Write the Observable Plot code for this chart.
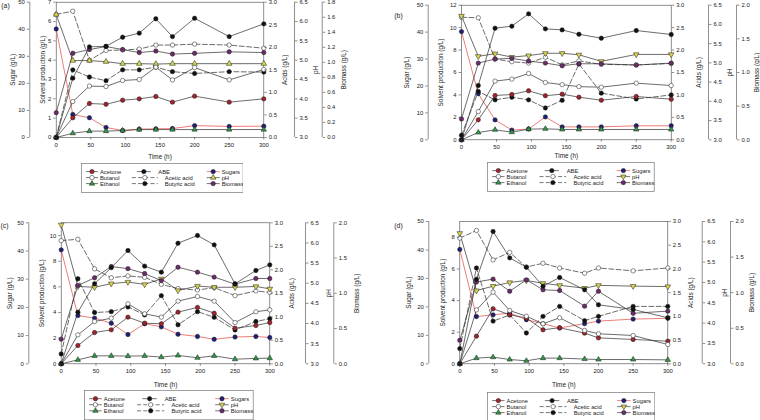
<!DOCTYPE html>
<html><head><meta charset="utf-8">
<script src="https://cdn.jsdelivr.net/npm/d3@7"></script>
<script src="https://cdn.jsdelivr.net/npm/@observablehq/plot@0.6"></script>
<style>
html,body{margin:0;padding:0;background:#fff;}
#page{position:relative;width:760px;height:420px;overflow:hidden;font-family:"Liberation Sans",Arial,Helvetica,sans-serif;}
#page svg{position:absolute;left:0;top:0;}
</style></head><body><div id="page"></div>
<script>
// ---------- tick labels ----------
const timeTicks = [0, 50, 100, 150, 200, 250, 300];
const sugarTicks = [0, 10, 20, 30, 40, 50];
const acidTicks = [0, 0.5, 1.0, 1.5, 2.0, 2.5, 3.0];
const phTicks = [3.0, 3.5, 4.0, 4.5, 5.0, 5.5, 6.0, 6.5];
const biomassTicksA = [0, 0.2, 0.4, 0.6, 0.8, 1.0, 1.2, 1.4, 1.6, 1.8];
const biomassTicks = [0, 0.5, 1.0, 1.5, 2.0];
const solventTicksA = [0, 1, 2, 3, 4, 5, 6, 7];
const solventTicksB = [0, 2, 4, 6, 8, 10, 12];
const solventTicksC = [0, 2, 4, 6, 8, 10];
const solventTicksD = [0, 2, 4, 6, 8];
const legendNames = ["Acetone", "Butanol", "Ethanol", "ABE", "Acetic acid", "Butyric acid", "Sugars", "pH", "Biomass"];

// ---------- panel (a) ----------
const timesA = [0, 24, 48, 72, 96, 120, 144, 168, 200, 250, 300];
const acetoneA = [0, 1.02, 1.76, 1.72, 1.93, 2.00, 2.12, 1.83, 2.14, 1.83, 2.00];
const butanolA = [0, 1.86, 2.66, 2.64, 2.95, 3.00, 3.64, 2.98, 3.62, 2.98, 3.52];
const ethanolA = [0, 0.22, 0.33, 0.33, 0.36, 0.41, 0.41, 0.41, 0.41, 0.41, 0.41];
const abeA = [0, 3.07, 4.69, 4.72, 5.19, 5.40, 6.14, 5.22, 6.17, 5.22, 5.88];
const sugarsA = [40.1, 8.5, 7.3, 3.7, 2.6, 3.1, 3.2, 3.3, 4.4, 4.1, 4.2];
const aceticA = [2.73, 2.80, 1.71, 1.93, 1.94, 1.96, 2.05, 2.05, 2.07, 2.05, 1.98];
const butyricA = [0, 1.50, 1.34, 1.26, 1.50, 1.50, 1.56, 1.46, 1.42, 1.46, 1.45];
const phA = [6.18, 4.99, 4.99, 4.96, 4.91, 4.91, 4.90, 4.91, 4.91, 4.91, 4.91];
const biomassA = [0.33, 1.12, 1.17, 1.21, 1.17, 1.13, 1.15, 1.11, 1.12, 1.14, 1.13];

// ---------- panel (b) ----------
const timesB = [0, 24, 48, 72, 96, 120, 144, 168, 200, 250, 300];
const acetoneB = [0, 1.78, 3.95, 4.04, 4.37, 3.93, 4.07, 3.80, 3.53, 3.86, 3.62];
const butanolB = [0, 2.52, 5.23, 5.41, 5.91, 5.11, 4.92, 4.74, 4.69, 5.05, 4.84];
const ethanolB = [0, 0.65, 0.89, 0.68, 0.95, 0.98, 0.92, 0.92, 0.92, 0.92, 0.92];
const abeB = [0, 4.84, 9.95, 10.13, 11.23, 9.89, 9.80, 9.41, 9.06, 9.74, 9.39];
const sugarsB = [40.2, 17.1, 7.4, 3.6, 4.0, 8.5, 4.8, 4.8, 4.8, 5.2, 5.2];
const aceticB = [2.73, 2.72, 1.80, 1.74, 1.71, 1.84, 1.67, 1.76, 1.68, 1.67, 1.70];
const butyricB = [0.10, 1.08, 0.89, 0.95, 0.89, 0.71, 0.88, 1.69, 1.04, 0.91, 1.00];
const phB = [6.22, 5.17, 5.24, 5.15, 5.19, 5.25, 5.25, 5.21, 5.04, 5.22, 5.22];
const biomassB = [0.31, 1.14, 1.20, 1.21, 1.17, 1.14, 1.10, 1.13, 1.13, 1.11, 1.14];

// ---------- panel (c) ----------
const timesC = [0, 24, 48, 72, 96, 120, 144, 168, 196, 220, 250, 280, 300];
const acetoneC = [0, 1.43, 2.44, 2.65, 3.64, 3.17, 3.12, 4.03, 4.40, 3.95, 2.78, 2.99, 3.22];
const butanolC = [0, 2.26, 3.30, 3.56, 4.68, 3.90, 3.64, 4.89, 5.25, 4.89, 3.22, 4.06, 4.21];
const ethanolC = [0, 0.31, 0.62, 0.62, 0.60, 0.62, 0.52, 0.65, 0.47, 0.62, 0.36, 0.42, 0.44];
const abeC = [0, 4.03, 6.24, 7.5, 8.84, 7.62, 7.15, 9.41, 10.01, 9.28, 6.24, 7.28, 7.72];
const sugarsC = [40.4, 17.1, 16.2, 14.4, 10.4, 14.2, 13.1, 10.5, 9.7, 8.7, 9.5, 9.7, 9.3];
const aceticC = [2.62, 2.65, 2.02, 1.83, 1.87, 1.84, 1.69, 1.60, 1.57, 1.62, 1.45, 1.55, 1.52];
const butyricC = [0.21, 1.81, 1.09, 1.11, 1.21, 1.04, 1.45, 0.83, 1.11, 0.99, 0.72, 0.90, 0.96];
const phC = [6.45, 4.92, 4.90, 4.99, 5.03, 4.97, 5.11, 4.82, 4.93, 4.90, 4.90, 4.92, 4.86];
const biomassC = [0.35, 1.11, 1.22, 1.38, 1.35, 1.28, 1.18, 1.37, 1.30, 1.23, 1.13, 1.21, 1.21];

// ---------- panel (d) ----------
const timesD = [0, 24, 48, 72, 96, 120, 144, 180, 200, 250, 300];
const acetoneD = [0, 1.75, 3.48, 3.10, 2.90, 2.15, 2.28, 1.94, 1.64, 1.54, 1.43];
const butanolD = [0, 3.41, 4.53, 3.37, 3.01, 2.53, 2.91, 2.11, 1.90, 1.79, 1.22];
const ethanolD = [0, 0.36, 0.42, 0.27, 0.19, 0.36, 0.36, 0.30, 0.27, 0.27, 0.25];
const abeD = [0, 5.35, 8.37, 6.70, 6.11, 4.91, 5.46, 4.68, 3.73, 3.44, 2.91];
const sugarsD = [40.2, 16.6, 17.2, 17.8, 15.5, 14.1, 12.6, 14.1, 15.0, 15.7, 16.0];
const aceticD = [2.65, 2.81, 2.19, 2.35, 2.04, 2.12, 2.02, 1.91, 2.02, 1.96, 2.02];
const butyricD = [0.32, 2.02, 0.90, 1.03, 0.65, 1.00, 1.21, 0.91, 1.00, 1.21, 1.21];
const phD = [6.21, 4.80, 4.91, 5.00, 5.05, 4.98, 4.93, 4.86, 4.93, 4.91, 4.90];
const biomassD = [0.33, 1.15, 1.19, 1.02, 1.18, 1.04, 1.03, 0.81, 1.02, 0.71, 0.74];

// ---------- styles ----------
const C = {
  line: "#2c2c2c", axis: "#444444", text: "#1a1a1a",
  acetone: "#a3222d", butanol: "#ffffff", ethanol: "#2f9a46", abe: "#111111",
  acetic: "#ffffff", butyric: "#111111", sugars: "#1d207a", sugarLine: "#e4453d",
  ph: "#d8d64a", biomass: "#6d2a6c"
};
const DASH = "5,2.4";
const sqrt3 = Math.sqrt(3);
const triDown = {draw(ctx, size) {
  const y = Math.sqrt(size / (sqrt3 * 3));
  ctx.moveTo(0, 2 * y); ctx.lineTo(-sqrt3 * y, -y); ctx.lineTo(sqrt3 * y, -y); ctx.closePath();
}};
const fmt1 = d3.format(".1f");
const page = document.getElementById("page");

function panel(cfg) {
  const {t, smax, bmax} = cfg;
  const sug = v => v * smax / 50, acid = v => v * smax / 3,
        ph = v => (v - 3) * smax / 3.5, bio = v => v * smax / bmax, sol = v => v;
  const phSymbol = cfg.phUp ? "triangle" : triDown;
  const series = [
    {vals: cfg.sugars, f: sug, stroke: C.sugarLine, fill: C.sugars, symbol: "circle"},
    {vals: cfg.acetic, f: acid, stroke: C.line, fill: C.acetic, symbol: "circle", dash: DASH},
    {vals: cfg.butyric, f: acid, stroke: C.line, fill: C.butyric, symbol: "circle", dash: DASH},
    {vals: cfg.ph, f: ph, stroke: C.line, fill: C.ph, symbol: phSymbol, r: 2.1},
    {vals: cfg.biomass, f: bio, stroke: C.line, fill: C.biomass, symbol: "circle"},
    {vals: cfg.ethanol, f: sol, stroke: C.line, fill: C.ethanol, symbol: "triangle", r: 2.0},
    {vals: cfg.acetone, f: sol, stroke: C.line, fill: C.acetone, symbol: "circle"},
    {vals: cfg.butanol, f: sol, stroke: C.line, fill: C.butanol, symbol: "circle"},
    {vals: cfg.abe, f: sol, stroke: C.line, fill: C.abe, symbol: "circle"}
  ];
  const marks = [Plot.frame({stroke: C.axis, strokeWidth: 0.6})];
  for (const s of series) {
    const data = t.map((h, i) => ({t: h, v: s.f(s.vals[i])}));
    marks.push(Plot.line(data, {x: "t", y: "v", stroke: s.stroke, strokeWidth: 0.7, strokeDasharray: s.dash}));
  }
  for (const s of series) {
    const data = t.map((h, i) => ({t: h, v: s.f(s.vals[i])}));
    marks.push(Plot.dot(data, {x: "t", y: "v", r: s.r || 2.2, symbol: s.symbol, fill: s.fill, stroke: "#1a1a1a", strokeWidth: 0.5}));
  }
  const ax = {tickSize: 2.5, tickPadding: 2.5, fontSize: 5.9, label: null, stroke: C.axis, fill: C.text, strokeWidth: 0.6};
  marks.push(
    Plot.axisX(timeTicks, {...ax, tickPadding: 2.4}),
    Plot.axisY(cfg.solventTicks, {...ax, anchor: "left", tickFormat: d => String(d)}),
    Plot.axisY(sugarTicks.map(sug), {...ax, anchor: "left", dx: cfg.sugarDx, tickFormat: d => String(Math.round(d * 50 / smax))}),
    Plot.axisY(acidTicks.map(acid), {...ax, anchor: "right", tickFormat: d => fmt1(d * 3 / smax)}),
    Plot.axisY(phTicks.map(ph), {...ax, anchor: "right", dx: cfg.phDx, tickFormat: d => fmt1(3 + d * 3.5 / smax)}),
    Plot.axisY(cfg.biomassTicks.map(bio), {...ax, anchor: "right", dx: cfg.bioDx, tickFormat: d => fmt1(d * bmax / smax)}),
    Plot.ruleX([0], {y1: 0, y2: smax, dx: cfg.sugarDx, stroke: C.axis, strokeWidth: 0.6}),
    Plot.ruleX([300], {y1: 0, y2: smax, dx: cfg.phDx, stroke: C.axis, strokeWidth: 0.6}),
    Plot.ruleX([300], {y1: 0, y2: smax, dx: cfg.bioDx, stroke: C.axis, strokeWidth: 0.6})
  );
  const tt = {fontSize: 6.4, fill: C.text, textAnchor: "middle", lineAnchor: "middle"};
  marks.push(
    Plot.text(["Sugar (g/L)"], {...tt, frameAnchor: "left", dx: cfg.ti[0], rotate: -90}),
    Plot.text(["Solvent production (g/L)"], {...tt, frameAnchor: "left", dx: cfg.ti[1], rotate: -90}),
    Plot.text(["Acids (g/L)"], {...tt, frameAnchor: "right", dx: cfg.ti[2], rotate: -90}),
    Plot.text(["pH"], {...tt, frameAnchor: "right", dx: cfg.ti[3], rotate: -90}),
    Plot.text(["Biomass (g/L)"], {...tt, frameAnchor: "right", dx: cfg.ti[4], rotate: -90}),
    Plot.text(["Time (h)"], {...tt, frameAnchor: "bottom", dy: cfg.timeDy}),
    Plot.text([cfg.letter], {...tt, fontSize: 6.8, frameAnchor: "top-left", dx: cfg.letterPos[0], dy: cfg.letterPos[1]})
  );
  const svg = Plot.plot({
    width: 760, height: 420,
    marginLeft: cfg.L, marginRight: 760 - cfg.R, marginTop: cfg.T, marginBottom: 420 - cfg.B,
    x: {domain: [0, 300]}, y: {domain: [0, smax]},
    style: {background: "transparent", fontFamily: '"Liberation Sans", Arial, Helvetica, sans-serif', overflow: "visible"},
    marks
  });
  page.appendChild(svg);
  legend(cfg.leg, cfg.phUp);
}

function legend([left, top, w, h], phUp) {
  const k = w / 162;
  const svg = d3.select(page).append("svg")
    .style("left", left + "px").style("top", top + "px")
    .attr("width", w + 1).attr("height", h + 1);
  svg.append("rect").attr("x", 0.5).attr("y", 0.5).attr("width", w).attr("height", h)
    .attr("fill", "white").attr("stroke", "#777").attr("stroke-width", 0.7);
  const rowY = [8.6, 14.6, 20.6].map(y => y * h / 29);
  const circle = d3.symbol(d3.symbolCircle, Math.PI * 2.2 * 2.2)();
  const tri = d3.symbol(d3.symbolTriangle, Math.PI * 2.0 * 2.0)();
  const triD = d3.symbol(triDown, Math.PI * 2.0 * 2.0)();
  const items = [
    {c: 0, r: 0, fill: C.acetone, sym: circle},
    {c: 0, r: 1, fill: C.butanol, sym: circle},
    {c: 0, r: 2, fill: C.ethanol, sym: tri},
    {c: 1, r: 0, fill: C.abe, sym: circle},
    {c: 1, r: 1, fill: C.acetic, sym: circle, dash: true},
    {c: 1, r: 2, fill: C.butyric, sym: circle, dash: true},
    {c: 2, r: 0, fill: C.sugars, sym: circle, stroke: C.sugarLine},
    {c: 2, r: 1, fill: C.ph, sym: phUp ? tri : triD},
    {c: 2, r: 2, fill: C.biomass, sym: circle}
  ];
  const col = [
    {x1: 5, x2: 17, m: 11, tx: 19},
    {x1: 56, x2: 70, m: 63, tx: 77.5},
    {x1: 126, x2: 139, m: 132.5, tx: 141}
  ];
  items.forEach((it, i) => {
    const c = col[it.c], y = rowY[it.r];
    const x1 = (it.dash ? 51 : c.x1) * k, x2 = (it.dash ? 77 : c.x2) * k, m = (it.dash ? 64 : c.m) * k;
    const tx = (it.dash ? 84 : c.tx) * k;
    svg.append("line").attr("x1", x1).attr("x2", x2).attr("y1", y).attr("y2", y)
      .attr("stroke", it.stroke || C.line).attr("stroke-width", 0.65)
      .attr("stroke-dasharray", it.dash ? "4,2.2" : null);
    svg.append("path").attr("d", it.sym).attr("transform", `translate(${m},${y})`)
      .attr("fill", it.fill).attr("stroke", "#1a1a1a").attr("stroke-width", 0.5);
    svg.append("text").attr("x", tx).attr("y", y).attr("dy", "0.35em")
      .attr("font-size", 5.8).attr("fill", C.text)
      .attr("font-family", '"Liberation Sans", Arial, sans-serif')
      .text(legendNames[i]);
  });
}

panel({letter: "(a)", t: timesA, acetone: acetoneA, butanol: butanolA, ethanol: ethanolA, abe: abeA,
  sugars: sugarsA, acetic: aceticA, butyric: butyricA, ph: phA, biomass: biomassA,
  smax: 7, bmax: 1.8, solventTicks: solventTicksA, biomassTicks: biomassTicksA, phUp: true,
  L: 55.7, R: 263.3, T: 1.7, B: 137.0, sugarDx: -26.4, phDx: 30.7, bioDx: 58.4,
  ti: [-43, -13, 20.7, 51.7, 79.7], timeDy: 19.7, letterPos: [-50.7, 3.3],
  leg: [80.7, 163.3, 161.6, 29]});

panel({letter: "(b)", t: timesB, acetone: acetoneB, butanol: butanolB, ethanol: ethanolB, abe: abeB,
  sugars: sugarsB, acetic: aceticB, butyric: butyricB, ph: phB, biomass: biomassB,
  smax: 12, bmax: 2.0, solventTicks: solventTicksB, biomassTicks: biomassTicks, phUp: false,
  L: 461, R: 670.7, T: 4.7, B: 139.3, sugarDx: -33.3, phDx: 37.3, bioDx: 65.3,
  ti: [-54.3, -20.3, 27.3, 58.3, 85.3], timeDy: 16.4, letterPos: [-63, 10.3],
  leg: [487.3, 161.7, 166.7, 29]});

panel({letter: "(c)", t: timesC, acetone: acetoneC, butanol: butanolC, ethanol: ethanolC, abe: abeC,
  sugars: sugarsC, acetic: aceticC, butyric: butyricC, ph: phC, biomass: biomassC,
  smax: 11, bmax: 2.0, solventTicks: solventTicksC, biomassTicks: biomassTicks, phUp: false,
  L: 60.7, R: 269.3, T: 222.3, B: 363.3, sugarDx: -32.4, phDx: 35.7, bioDx: 64,
  ti: [-51.4, -19, 22.4, 58.7, 87.4], timeDy: 20.7, letterPos: [-56.7, 2.7],
  leg: [84, 390, 168.7, 29.3]});

panel({letter: "(d)", t: timesD, acetone: acetoneD, butanol: butanolD, ethanol: ethanolD, abe: abeD,
  sugars: sugarsD, acetic: aceticD, butyric: butyricD, ph: phD, biomass: biomassD,
  smax: 9, bmax: 2.0, solventTicks: solventTicksD, biomassTicks: biomassTicks, phUp: false,
  L: 459.3, R: 667.3, T: 221, B: 363.3, sugarDx: -31, phDx: 34.4, bioDx: 62.7,
  ti: [-51, -16.6, 23.4, 56.7, 83.7], timeDy: 20.7, letterPos: [-61.3, 4],
  leg: [486.7, 391.7, 167.3, 29]});
</script></body></html>
